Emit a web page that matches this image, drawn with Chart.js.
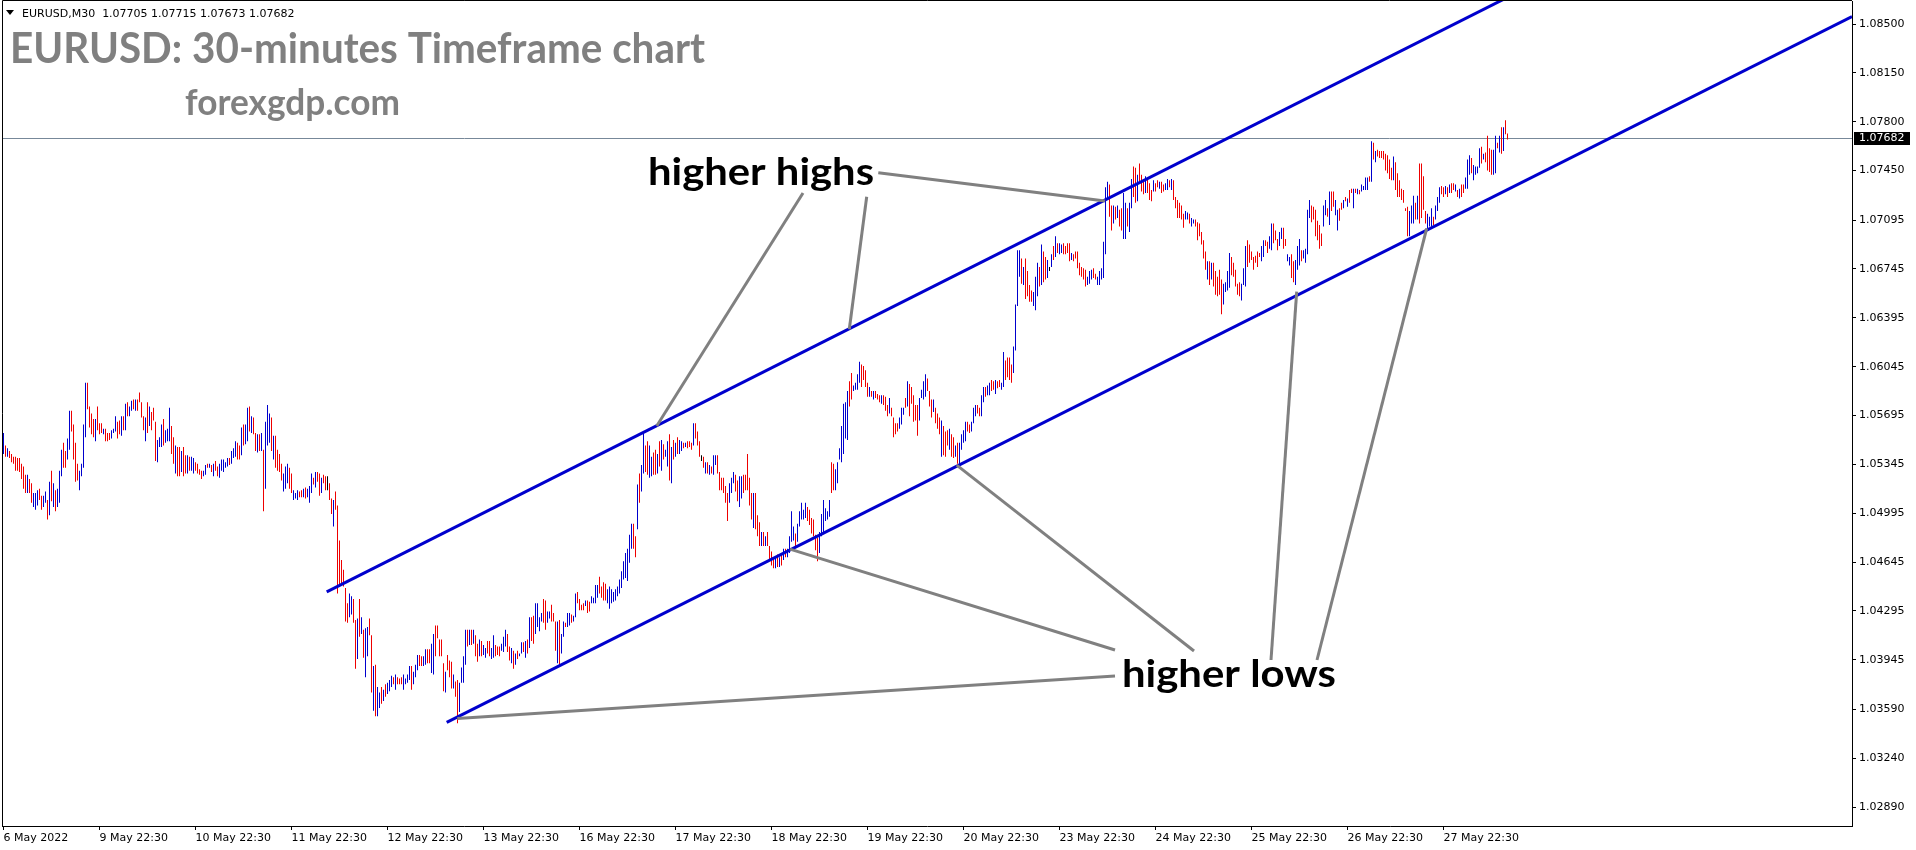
<!DOCTYPE html>
<html>
<head>
<meta charset="utf-8">
<title>EURUSD M30</title>
<script src="https://cdn.jsdelivr.net/npm/chart.js@4.4.1/dist/chart.umd.min.js"></script>
<style>
  html, body { margin: 0; padding: 0; background: #fff; }
  #wrap { width: 1916px; height: 850px; }
</style>
</head>
<body>
<div id="wrap"><canvas id="eurusd" width="1916" height="850"></canvas></div>
<script>
// 30-minute bars: highs, lows and bar colour (B up, R down, K doji)
const highs = [
  1.0557,1.0548,1.0546,1.0544,1.0542,1.0540,1.0540,1.0539,1.0539,1.0535,
  1.0533,1.0527,1.0527,1.0524,1.0521,1.0514,1.0514,1.0516,1.0517,1.0512,
  1.0512,1.0515,1.0509,1.0522,1.0530,1.0521,1.0516,1.0517,1.0530,1.0545,
  1.0550,1.0544,1.0553,1.0573,1.0573,1.0563,1.0550,1.0535,1.0530,1.0535,
  1.0563,1.0593,1.0593,1.0576,1.0571,1.0567,1.0567,1.0576,1.0564,1.0564,
  1.0560,1.0560,1.0557,1.0557,1.0559,1.0560,1.0569,1.0565,1.0566,1.0569,
  1.0569,1.0578,1.0579,1.0576,1.0580,1.0581,1.0581,1.0581,1.0586,1.0579,
  1.0569,1.0568,1.0579,1.0576,1.0572,1.0575,1.0565,1.0552,1.0554,1.0563,
  1.0567,1.0559,1.0560,1.0575,1.0562,1.0554,1.0548,1.0547,1.0547,1.0544,
  1.0547,1.0541,1.0541,1.0540,1.0540,1.0539,1.0536,1.0535,1.0531,1.0530,
  1.0530,1.0534,1.0535,1.0535,1.0534,1.0535,1.0537,1.0533,1.0535,1.0538,
  1.0538,1.0536,1.0539,1.0539,1.0544,1.0546,1.0551,1.0550,1.0548,1.0561,
  1.0563,1.0563,1.0575,1.0576,1.0569,1.0568,1.0557,1.0556,1.0556,1.0557,
  1.0545,1.0565,1.0577,1.0571,1.0568,1.0555,1.0555,1.0545,1.0542,1.0535,
  1.0528,1.0533,1.0535,1.0532,1.0528,1.0516,1.0514,1.0516,1.0515,1.0516,
  1.0517,1.0518,1.0517,1.0519,1.0528,1.0525,1.0529,1.0529,1.0528,1.0525,
  1.0527,1.0526,1.0526,1.0521,1.0510,1.0509,1.0515,1.0505,1.0480,1.0466,
  1.0459,1.0446,1.0435,1.0442,1.0440,1.0438,1.0423,1.0424,1.0438,1.0425,
  1.0416,1.0417,1.0418,1.0424,1.0412,1.0390,1.0391,1.0375,1.0371,1.0375,
  1.0373,1.0377,1.0378,1.0380,
  1.0383,1.0382,1.0384,1.0382,1.0381,1.0382,
  1.0384,1.0381,1.0384,1.0390,1.0390,1.0386,1.0391,1.0398,1.0398,1.0397,
  1.0397,1.0402,1.0402,1.0402,1.0406,1.0413,1.0419,1.0419,1.0409,1.0409,
  1.0392,1.0386,1.0398,1.0394,1.0393,1.0384,1.0379,1.0380,1.0378,1.0389,
  1.0397,1.0416,1.0416,1.0416,1.0416,1.0416,1.0412,1.0406,1.0409,1.0408,
  1.0405,1.0403,1.0408,1.0408,1.0403,1.0412,1.0405,1.0404,1.0404,1.0406,
  1.0411,1.0416,1.0413,1.0404,1.0403,1.0401,1.0399,1.0401,1.0399,1.0407,
  1.0407,1.0408,1.0409,1.0425,1.0425,1.0426,1.0435,1.0435,1.0425,1.0428,
  1.0438,1.0437,1.0429,1.0429,1.0434,1.0428,1.0422,1.0422,1.0423,1.0413,
  1.0422,1.0421,1.0428,1.0428,1.0427,1.0426,1.0442,1.0443,1.0438,1.0434,
  1.0435,1.0437,1.0437,1.0436,1.0440,1.0439,1.0448,1.0448,1.0454,1.0447,
  1.0450,1.0449,1.0445,1.0447,1.0445,1.0443,1.0445,1.0447,1.0452,1.0458,
  1.0465,1.0471,1.0474,1.0484,1.0492,1.0492,1.0483,1.0520,1.0528,1.0534,
  1.0557,1.0548,1.0551,1.0548,1.0540,1.0543,1.0545,1.0542,1.0551,1.0552,
  1.0549,1.0545,1.0551,1.0556,1.0547,1.0552,1.0550,1.0554,1.0552,1.0551,
  1.0550,1.0550,1.0551,1.0551,1.0550,1.0564,1.0564,1.0558,1.0551,1.0541,
  1.0540,1.0536,1.0536,1.0534,1.0533,1.0541,1.0541,1.0541,1.0529,1.0525,
  1.0525,1.0519,1.0514,1.0521,1.0525,1.0529,1.0527,1.0523,1.0526,1.0526,
  1.0527,1.0527,1.0542,1.0525,1.0514,1.0514,1.0514,1.0498,1.0493,1.0486,
  1.0486,1.0483,1.0486,1.0476,
  1.0472,1.0468,1.0468,1.0470,1.0468,1.0471,
  1.0474,1.0474,1.0474,1.0483,1.0501,1.0490,1.0485,1.0492,1.0501,1.0507,
  1.0502,1.0507,1.0504,1.0502,1.0496,1.0495,1.0484,1.0482,1.0486,1.0499,
  1.0509,1.0503,1.0501,1.0509,1.0536,1.0535,1.0531,1.0536,1.0546,1.0562,
  1.0578,1.0579,1.0587,1.0594,1.0600,1.0591,1.0593,1.0599,1.0608,1.0606,
  1.0605,1.0602,1.0593,1.0590,1.0587,1.0587,1.0587,1.0585,1.0584,1.0584,
  1.0584,1.0583,1.0577,1.0582,1.0575,1.0568,1.0564,1.0564,1.0568,1.0575,
  1.0575,1.0582,1.0594,1.0592,1.0590,1.0584,1.0577,1.0577,1.0582,1.0588,
  1.0594,1.0599,1.0596,1.0587,1.0581,1.0581,1.0575,1.0571,1.0568,1.0566,
  1.0562,1.0558,1.0559,1.0560,1.0556,1.0554,1.0548,1.0550,1.0550,1.0556,
  1.0559,1.0565,1.0565,1.0563,1.0565,1.0575,1.0577,1.0577,1.0575,1.0584,
  1.0590,1.0590,1.0591,1.0593,1.0595,1.0594,1.0595,1.0594,1.0595,1.0593,
  1.0615,1.0609,1.0611,1.0611,1.0606,1.0619,1.0649,1.0688,1.0688,1.0682,
  1.0676,1.0682,1.0673,1.0663,1.0659,1.0658,1.0669,1.0679,1.0676,1.0692,
  1.0687,1.0683,1.0681,1.0676,1.0685,1.0691,1.0698,1.0693,1.0693,1.0692,
  1.0693,1.0691,1.0693,1.0693,1.0686,1.0685,1.0687,1.0687,1.0679,1.0676,
  1.0675,1.0674,1.0669,1.0673,1.0674,1.0675,1.0671,1.0669,1.0673,1.0675,
  1.0694,1.0733,1.0737,1.0735,1.0720,1.0720,1.0719,1.0720,1.0717,1.0718,
  1.0729,1.0722,1.0718,1.0722,1.0739,1.0748,1.0747,1.0742,1.0750,1.0742,
  1.0738,1.0741,1.0739,1.0736,
  1.0731,1.0738,1.0736,1.0738,1.0737,1.0737,
  1.0735,1.0736,1.0739,1.0738,1.0739,1.0738,1.0726,1.0724,1.0722,1.0720,
  1.0714,1.0716,1.0715,1.0714,1.0711,1.0710,1.0710,1.0708,1.0707,1.0701,
  1.0695,1.0687,1.0680,1.0680,1.0679,1.0679,1.0673,1.0669,1.0674,1.0667,
  1.0664,1.0665,1.0673,1.0686,1.0683,1.0679,1.0674,1.0664,1.0665,1.0664,
  1.0675,1.0691,1.0695,1.0692,1.0687,1.0683,1.0684,1.0687,1.0686,1.0691,
  1.0695,1.0695,1.0694,1.0698,1.0707,1.0707,1.0702,1.0696,1.0701,1.0704,
  1.0704,1.0696,1.0685,1.0683,1.0685,1.0680,1.0681,1.0691,1.0696,1.0688,
  1.0688,1.0689,1.0717,1.0724,1.0720,1.0719,1.0717,1.0709,1.0706,1.0700,
  1.0720,1.0724,1.0718,1.0730,1.0730,1.0730,1.0724,1.0717,1.0718,1.0722,
  1.0724,1.0726,1.0725,1.0731,1.0732,1.0732,1.0732,1.0732,1.0731,1.0735,
  1.0734,1.0740,1.0740,1.0741,1.0766,1.0765,1.0759,1.0760,1.0759,1.0759,
  1.0759,1.0757,1.0756,1.0753,1.0747,1.0755,1.0751,1.0743,1.0738,1.0732,
  1.0731,1.0718,1.0719,1.0716,1.0720,1.0727,1.0722,1.0727,1.0750,1.0750,
  1.0741,1.0716,1.0714,1.0712,1.0718,1.0712,1.0720,1.0726,1.0733,1.0734,
  1.0733,1.0734,1.0733,1.0735,1.0736,1.0736,1.0735,1.0731,1.0732,1.0735,
  1.0735,1.0740,1.0753,1.0756,1.0754,1.0749,1.0748,1.0748,1.0761,1.0762,
  1.0757,1.0758,1.0770,1.0761,1.0760,1.0760,1.0770,1.0765,1.0770,1.0776,
  1.0776,1.0781,1.07715
];

const lows = [
  1.0542,1.0540,1.0540,1.0539,1.0536,1.0535,1.0530,1.0530,1.0529,1.0524,
  1.0517,1.0514,1.0514,1.0514,1.0507,1.0504,1.0502,1.0505,1.0509,1.0502,
  1.0504,1.0507,1.0495,1.0498,1.0508,1.0504,1.0501,1.0504,1.0507,1.0526,
  1.0532,1.0532,1.0538,1.0545,1.0558,1.0538,1.0522,1.0523,1.0516,1.0526,
  1.0532,1.0554,1.0574,1.0561,1.0556,1.0554,1.0551,1.0559,1.0556,1.0557,
  1.0556,1.0551,1.0551,1.0552,1.0553,1.0557,1.0558,1.0553,1.0556,1.0555,
  1.0559,1.0559,1.0569,1.0569,1.0573,1.0574,1.0573,1.0573,1.0579,1.0568,
  1.0559,1.0551,1.0557,1.0562,1.0559,1.0566,1.0537,1.0536,1.0547,1.0547,
  1.0548,1.0550,1.0551,1.0551,1.0542,1.0535,1.0528,1.0526,1.0526,1.0529,
  1.0526,1.0528,1.0528,1.0530,1.0530,1.0528,1.0530,1.0528,1.0527,1.0524,
  1.0526,1.0527,1.0532,1.0532,1.0529,1.0526,1.0530,1.0526,1.0525,1.0530,
  1.0529,1.0532,1.0533,1.0534,1.0535,1.0539,1.0540,1.0538,1.0538,1.0541,
  1.0548,1.0549,1.0551,1.0558,1.0557,1.0556,1.0544,1.0543,1.0544,1.0544,
  1.0501,1.0517,1.0548,1.0550,1.0544,1.0538,1.0532,1.0530,1.0529,1.0523,
  1.0515,1.0517,1.0521,1.0517,1.0514,1.0509,1.0510,1.0509,1.0511,1.0511,
  1.0511,1.0510,1.0511,1.0507,1.0514,1.0520,1.0518,1.0522,1.0512,1.0514,
  1.0521,1.0516,1.0516,1.0509,1.0499,1.0490,1.0502,1.0442,1.0447,1.0448,
  1.0447,1.0422,1.0421,1.0425,1.0427,1.0421,1.0388,1.0395,1.0411,1.0413,
  1.0396,1.0382,1.0397,1.0412,1.0371,1.0358,1.0354,1.0354,1.0360,1.0363,
  1.0365,1.0368,1.0370,1.0372,
  1.0375,1.0377,1.0373,1.0377,1.0377,1.0377,
  1.0373,1.0377,1.0378,1.0380,1.0373,1.0377,1.0382,1.0387,1.0390,1.0390,
  1.0390,1.0391,1.0392,1.0392,1.0385,1.0384,1.0397,1.0410,1.0397,1.0397,
  1.0372,1.0371,1.0387,1.0382,1.0374,1.0374,1.0368,1.0349,1.0357,1.0378,
  1.0378,1.0391,1.0404,1.0405,1.0405,1.0406,1.0397,1.0393,1.0397,1.0397,
  1.0398,1.0396,1.0399,1.0397,1.0395,1.0396,1.0397,1.0398,1.0397,1.0401,
  1.0400,1.0404,1.0400,1.0394,1.0392,1.0388,1.0391,1.0395,1.0397,1.0399,
  1.0400,1.0396,1.0399,1.0403,1.0408,1.0406,1.0413,1.0418,1.0415,1.0422,
  1.0421,1.0416,1.0421,1.0424,1.0422,1.0422,1.0401,1.0392,1.0391,1.0399,
  1.0411,1.0418,1.0418,1.0419,1.0421,1.0422,1.0425,1.0435,1.0430,1.0430,
  1.0430,1.0433,1.0428,1.0429,1.0435,1.0435,1.0435,1.0439,1.0442,1.0439,
  1.0437,1.0437,1.0435,1.0431,1.0435,1.0436,1.0437,1.0440,1.0442,1.0446,
  1.0452,1.0453,1.0451,1.0464,1.0474,1.0474,1.0468,1.0488,1.0507,1.0515,
  1.0528,1.0529,1.0527,1.0525,1.0526,1.0527,1.0527,1.0528,1.0533,1.0530,
  1.0538,1.0540,1.0533,1.0523,1.0521,1.0538,1.0540,1.0542,1.0542,1.0544,
  1.0546,1.0547,1.0546,1.0547,1.0545,1.0548,1.0553,1.0548,1.0540,1.0537,
  1.0532,1.0528,1.0528,1.0527,1.0528,1.0527,1.0534,1.0528,1.0516,1.0516,
  1.0514,1.0507,1.0494,1.0507,1.0514,1.0521,1.0515,1.0508,1.0504,1.0510,
  1.0514,1.0516,1.0516,1.0505,1.0495,1.0489,1.0488,1.0483,1.0476,1.0476,
  1.0476,1.0476,1.0476,1.0466,
  1.0462,1.0460,1.0460,1.0461,1.0461,1.0462,
  1.0466,1.0468,1.0468,1.0471,1.0479,1.0480,1.0476,1.0479,1.0490,1.0495,
  1.0495,1.0496,1.0494,1.0491,1.0485,1.0483,1.0473,1.0465,1.0471,1.0483,
  1.0485,1.0494,1.0495,1.0497,1.0514,1.0516,1.0516,1.0521,1.0538,1.0536,
  1.0542,1.0553,1.0552,1.0576,1.0581,1.0587,1.0588,1.0588,1.0593,1.0590,
  1.0595,1.0590,1.0583,1.0583,1.0583,1.0581,1.0582,1.0581,1.0579,1.0578,
  1.0577,1.0573,1.0569,1.0571,1.0569,1.0554,1.0556,1.0558,1.0560,1.0563,
  1.0570,1.0575,1.0576,1.0569,1.0578,1.0565,1.0566,1.0555,1.0566,1.0582,
  1.0581,1.0583,1.0587,1.0576,1.0568,1.0572,1.0564,1.0560,1.0556,1.0540,
  1.0541,1.0540,1.0548,1.0545,1.0540,1.0539,1.0540,1.0535,1.0534,1.0545,
  1.0550,1.0551,1.0558,1.0557,1.0558,1.0564,1.0569,1.0571,1.0569,1.0569,
  1.0579,1.0583,1.0584,1.0584,1.0587,1.0588,1.0585,1.0589,1.0590,1.0588,
  1.0590,1.0595,1.0597,1.0595,1.0593,1.0600,1.0616,1.0648,1.0669,1.0664,
  1.0663,1.0653,1.0655,1.0651,1.0651,1.0648,1.0645,1.0655,1.0662,1.0663,
  1.0665,1.0667,1.0668,1.0673,1.0676,1.0681,1.0683,1.0686,1.0685,1.0686,
  1.0685,1.0685,1.0686,1.0680,1.0681,1.0680,1.0682,1.0675,1.0670,1.0669,
  1.0667,1.0662,1.0663,1.0664,1.0667,1.0668,1.0667,1.0663,1.0663,1.0667,
  1.0668,1.0685,1.0724,1.0712,1.0702,1.0707,1.0710,1.0711,1.0705,1.0702,
  1.0696,1.0696,1.0705,1.0701,1.0718,1.0726,1.0722,1.0723,1.0736,1.0730,
  1.0728,1.0729,1.0729,1.0724,
  1.0723,1.0730,1.0730,1.0733,1.0732,1.0729,
  1.0730,1.0731,1.0731,1.0733,1.0731,1.0724,1.0718,1.0711,1.0711,1.0710,
  1.0704,1.0710,1.0710,1.0707,1.0705,1.0707,1.0705,1.0695,1.0698,1.0692,
  1.0682,1.0674,1.0667,1.0663,1.0667,1.0662,1.0656,1.0655,1.0656,1.0642,
  1.0649,1.0658,1.0659,1.0661,1.0670,1.0669,1.0662,1.0656,1.0655,1.0652,
  1.0663,1.0662,1.0676,1.0679,1.0681,1.0674,1.0679,1.0676,1.0683,1.0680,
  1.0683,1.0691,1.0686,1.0689,1.0688,1.0693,1.0695,1.0688,1.0691,1.0696,
  1.0689,1.0691,1.0680,1.0677,1.0668,1.0665,1.0663,1.0674,1.0677,1.0680,
  1.0682,1.0679,1.0685,1.0711,1.0708,1.0710,1.0698,1.0695,1.0689,1.0691,
  1.0705,1.0713,1.0712,1.0706,1.0716,1.0719,1.0713,1.0702,1.0709,1.0717,
  1.0718,1.0723,1.0719,1.0722,1.0729,1.0718,1.0729,1.0728,1.0728,1.0730,
  1.0731,1.0731,1.0731,1.0737,1.0737,1.0753,1.0751,1.0755,1.0754,1.0754,
  1.0753,1.0745,1.0743,1.0739,1.0738,1.0738,1.0731,1.0726,1.0726,1.0724,
  1.0722,1.0716,1.0698,1.0698,1.0707,1.0707,1.0710,1.0710,1.0707,1.0711,
  1.0717,1.0707,1.0702,1.0705,1.0705,1.0706,1.0710,1.0716,1.0722,1.0728,
  1.0726,1.0728,1.0726,1.0729,1.0729,1.0731,1.0730,1.0726,1.0725,1.0726,
  1.0729,1.0732,1.0732,1.0742,1.0743,1.0738,1.0742,1.0743,1.0747,1.0750,
  1.0753,1.0751,1.0745,1.0744,1.0742,1.0742,1.0743,1.0761,1.0758,1.0757,
  1.0759,1.0771,1.07673
];

const barDirs = [
  "BRBRRRRRRR","RRBRRBBBRR","BBRBRBRBBB","RRBBRRRRBB","BBRRRRBRRR",
  "BRRRBBBRRB","RBRBBRBRRR","RBRBRRRBBB","RBBBRRBRRB","RRBRBBRRRR",
  "BBRBRBRRBB","BBBRBBBRRB","RBBRBRRBRB","RBBBRBRRRR","BBBRRBBBRR",
  "BRBBBRBRRB","RRKRRBRRRR","RRRBBRRBRB","RBBRRBRBBR","BRBB",
  "BRBRRR","BBBBRBBBRR","BBRRBBRRRR","RBRRRBRRBB","BBRBRBRRBR",
  "BBRRBBRRRB","BBRRBRBRBB","RBRBRRBBBB","RRBBRRRBRB","BRBBRBBRRR",
  "RBRRBBBBRR","RRBBBBBBBB","BBBBBRRBRB","BRRBBRRBRB","RBBRBRBRBB",
  "RBRRRBRRRK","RBRBRBBRRR","RRRBBBRRBB","RRRRRBRRRB","RBRR",
  "RRBRBR","BRBBBBRBBB","BBRRRRRRBB","BBBBRRBBBB","BBBRRBBBBR",
  "RRRBRBRRRB","RRRBRRRRBB","BRBRRRRRBB","BBRRRBRRRB","RRRBRRBRBB",
  "BBRRBBBRRB","BRBBRRBRRB","BRRRRBBBBR","BRRRRBBBRB","RRBKBRBRBB",
  "RRRRBRRRRR","RRBBBRRBBB","BBBRRBRBRR","BBRBBRRBRR","RBRR",
  "RBRRBR","RBBRBRRRRR","RBBRBBRRRR","RRBRBRRRRR","BBBBRRRRRB",
  "BBRRRRRRRB","BRRBBRRRBB","RRBBRRBBBR","BBBBRRRRRR","BBRBRRBBRR",
  "BRBRRBRBRB","BBBRBRBRRR","RRRRRBRRRR","RRRBBBRBRR","RRBBBRBBBR",
  "RBRBRRBRBR","RBBBRBBBBR","BRRRRBBRBR","BRR"
].join('');

// axes
const priceTicks = [1.08500, 1.08150, 1.07800, 1.07450, 1.07095, 1.06745, 1.06395, 1.06045, 1.05695,
  1.05345, 1.04995, 1.04645, 1.04295, 1.03945, 1.03590, 1.03240, 1.02890];
const dayTicks = [0, 48, 96, 144, 192, 240, 288, 336, 384, 432, 480, 528, 576, 624, 672, 720];
const dayLabels = ['6 May 2022', '9 May 22:30', '10 May 22:30', '11 May 22:30', '12 May 22:30', '13 May 22:30',
  '16 May 22:30', '17 May 22:30', '18 May 22:30', '19 May 22:30', '20 May 22:30', '23 May 22:30',
  '24 May 22:30', '25 May 22:30', '26 May 22:30', '27 May 22:30'];

// last quote: open, high, low, close
const lastQuote = [1.07705, 1.07715, 1.07673, 1.07682];

// channel lines (bar index, price)
const upperChannel = [{ x: 161.6, y: 1.04432 }, { x: 924.25, y: 1.09934 }];
const lowerChannel = [{ x: 221.6, y: 1.03497 }, { x: 924.25, y: 1.08554 }];

// points the call-out arrows touch (bar index, price)
const highTargets = [[326.6, 1.05620], [422.9, 1.06313], [550.75, 1.07232]];
const lowTargets = [[226.9, 1.03525], [393.25, 1.04738], [476.6, 1.05340], [646.6, 1.06582], [711.6, 1.07036]];

const UP = '#0000cd', DOWN = '#ee0000', DOJI = '#000000';
const colourOf = { B: UP, R: DOWN, K: DOJI };

const bars = highs.map((h, i) => ({ x: i, y: [lows[i], h] }));
const barColours = highs.map((h, i) => colourOf[barDirs[i]] || UP);

function fitText(ctx, str, x, base, width, font, colour) {
    ctx.save();
    ctx.font = font;
    ctx.fillStyle = colour;
    ctx.textAlign = 'left';
    ctx.textBaseline = 'alphabetic';
    const w = ctx.measureText(str).width;
    ctx.translate(x, base);
    ctx.scale(width / w, 1);
    ctx.fillText(str, 0, 0);
    ctx.restore();
}

// keep the plot frame where MT4 puts it: no extra room for tick labels
function noPadding(s) {
    s.paddingTop = 0;
    s.paddingBottom = 0;
    s.paddingLeft = 0;
    s.paddingRight = 0;
}

const mt4Overlay = {
    id: 'mt4Overlay',
    beforeDatasetsDraw(chart) {
        const { ctx, chartArea: a, scales: { y } } = chart;
        const py = Math.round(y.getPixelForValue(lastQuote[3])) + 0.5;
        ctx.save();
        ctx.strokeStyle = '#778899';
        ctx.lineWidth = 1;
        ctx.beginPath();
        ctx.moveTo(a.left, py);
        ctx.lineTo(a.right, py);
        ctx.stroke();
        ctx.restore();
    },
    afterDatasetsDraw(chart) {
        const { ctx, scales: { x, y } } = chart;
        // grey call-out lines, from the label to the touched point
        const highStarts = [[803, 193], [866.7, 196.7], [878.3, 172.7]];
        const lowStarts = [[1115, 676], [1115, 650], [1194, 651], [1271, 660], [1317, 660]];
        ctx.save();
        ctx.strokeStyle = '#808080';
        ctx.lineWidth = 3;
        const draw = (starts, targets) => {
            targets.forEach((t, k) => {
                ctx.beginPath();
                ctx.moveTo(starts[k][0], starts[k][1]);
                ctx.lineTo(x.getPixelForValue(t[0]), y.getPixelForValue(t[1]));
                ctx.stroke();
            });
        };
        draw(highStarts, highTargets);
        draw(lowStarts, lowTargets);
        ctx.restore();
    },
    afterDraw(chart) {
        const { ctx, chartArea: a, scales: { y } } = chart;
        ctx.save();
        // frame (left and top; right and bottom come from the axes)
        ctx.strokeStyle = '#000';
        ctx.lineWidth = 1;
        ctx.beginPath();
        ctx.moveTo(a.left + 0.5, a.bottom);
        ctx.lineTo(a.left + 0.5, 0.5);
        ctx.lineTo(a.right, 0.5);
        ctx.stroke();

        // current price tag
        const py = y.getPixelForValue(lastQuote[3]);
        ctx.fillStyle = '#000';
        ctx.fillRect(a.right + 2, Math.round(py) - 6, 56, 13);
        ctx.fillStyle = '#fff';
        ctx.font = '11px "DejaVu Sans"';
        ctx.textBaseline = 'middle';
        ctx.fillText(lastQuote[3].toFixed(5), a.right + 7, Math.round(py) + 0.5);

        // symbol header
        ctx.fillStyle = '#000';
        ctx.beginPath();
        ctx.moveTo(6, 10); ctx.lineTo(14, 10); ctx.lineTo(10, 15); ctx.closePath();
        ctx.fill();
        ctx.textBaseline = 'alphabetic';
        ctx.fillText('EURUSD,M30  ' + lastQuote.map(v => v.toFixed(5)).join(' '), 22, 17);
        ctx.restore();

        fitText(ctx, 'EURUSD: 30-minutes Timeframe chart', 10, 63, 695, 'bold 42px Lato', '#808080');
        fitText(ctx, 'forexgdp.com', 185, 115, 215, 'bold 36px Lato', '#808080');
        fitText(ctx, 'higher highs', 648, 185, 226, 'bold 38px Lato', '#000');
        fitText(ctx, 'higher lows', 1122, 687, 214, 'bold 38px Lato', '#000');
    }
};

Chart.defaults.font.family = '"DejaVu Sans", sans-serif';
Chart.defaults.font.size = 11;
Chart.defaults.color = '#000';

new Chart(document.getElementById('eurusd'), {
    type: 'bar',
    data: {
        datasets: [
            {
                type: 'line',
                data: upperChannel,
                borderColor: UP,
                borderWidth: 3,
                pointRadius: 0,
                order: 0
            },
            {
                type: 'line',
                data: lowerChannel,
                borderColor: UP,
                borderWidth: 3,
                pointRadius: 0,
                order: 0
            },
            {
                type: 'bar',
                data: bars,
                backgroundColor: barColours,
                borderWidth: 0,
                barThickness: 1,
                inflateAmount: 0,
                order: 1
            }
        ]
    },
    options: {
        responsive: false,
        devicePixelRatio: 1,
        animation: false,
        events: [],
        layout: { padding: { top: 1, left: 2, right: 0, bottom: 0 } },
        plugins: {
            legend: { display: false },
            tooltip: { enabled: false },
            title: { display: false }
        },
        scales: {
            x: {
                type: 'linear',
                min: -0.75,
                max: 924.25,
                offset: false,
                afterFit: s => { s.height = 24; noPadding(s); },
                afterBuildTicks: s => { s.ticks = dayTicks.map(v => ({ value: v })); },
                ticks: {
                    autoSkip: false,
                    maxRotation: 0,
                    align: 'start',
                    padding: 2,
                    callback: (v, i) => dayLabels[i]
                },
                grid: { offset: false, drawOnChartArea: false, tickLength: 4, color: '#000' },
                border: { display: true, color: '#000', width: 1 }
            },
            y: {
                type: 'linear',
                position: 'right',
                min: 1.02754,
                max: 1.08665,
                afterFit: s => { s.width = 64; noPadding(s); },
                afterBuildTicks: s => { s.ticks = priceTicks.map(v => ({ value: v })); },
                ticks: {
                    autoSkip: false,
                    padding: 3,
                    callback: v => v.toFixed(5)
                },
                grid: { drawOnChartArea: false, tickLength: 4, color: '#000' },
                border: { display: true, color: '#000', width: 1 }
            }
        }
    },
    plugins: [mt4Overlay]
});
</script>
</body>
</html>
